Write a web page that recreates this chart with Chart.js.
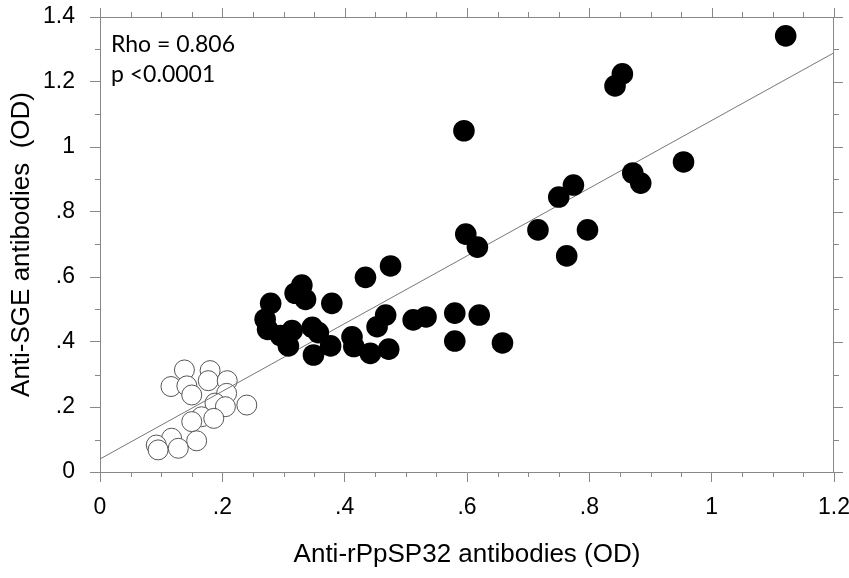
<!DOCTYPE html>
<html>
<head>
<meta charset="utf-8">
<script src="https://cdn.jsdelivr.net/npm/chart.js@4"></script>
<style>
html,body{margin:0;padding:0;background:#fff;}
#wrap{width:849px;height:578px;position:relative;}
</style>
</head>
<body>
<div id="wrap"><canvas id="c"></canvas></div>
<script>
// Group 1 (filled circles): Anti-rPpSP32 OD (x) vs Anti-SGE OD (y)
const filledX = [1.121,0.854,0.842,0.595,0.954,0.871,0.884,0.774,0.750,0.716,0.797,0.763,0.598,0.617,
  0.475,0.434,0.330,0.319,0.336,0.379,0.279,0.270,0.274,0.295,0.314,0.308,0.347,0.357,0.377,0.349,
  0.412,0.415,0.442,0.472,0.467,0.453,0.512,0.533,0.580,0.620,0.580,0.658];
const filledY = [1.342,1.225,1.188,1.050,0.954,0.920,0.889,0.883,0.846,0.745,0.745,0.665,0.732,0.692,
  0.634,0.599,0.575,0.550,0.531,0.519,0.519,0.470,0.439,0.420,0.435,0.388,0.445,0.429,0.388,0.360,
  0.416,0.386,0.365,0.378,0.483,0.447,0.468,0.477,0.489,0.483,0.403,0.397];
// Group 2 (open circles)
const openX = [0.138,0.180,0.116,0.142,0.177,0.208,0.150,0.207,0.188,0.205,0.240,0.166,0.186,0.150,
  0.117,0.158,0.092,0.095,0.128];
const openY = [0.314,0.312,0.263,0.265,0.281,0.281,0.237,0.242,0.212,0.201,0.206,0.170,0.165,0.155,
  0.104,0.096,0.083,0.068,0.073];
// Regression line end points
const fitX = [0, 1.2];
const fitY = [0.04, 1.29];
// Axis ticks
const xTicks = [0, 0.2, 0.4, 0.6, 0.8, 1.0, 1.2];
const yTicks = [0, 0.2, 0.4, 0.6, 0.8, 1.0, 1.2, 1.4];
const statLines = ['Rho = 0.806', 'p <0.0001'];

function pts(xs, ys){ return xs.map((x,i)=>({x:x, y:ys[i]})); }
function fmt(v){
  v = Math.round(v*10)/10;
  if (v === 0) return '0';
  if (v < 1) return String(v).replace(/^0/, '');
  return String(v);
}

const AXIS = '#888888';

const framePlugin = {
  id: 'frame',
  afterDraw(chart){
    const {ctx, chartArea:a, scales:{x, y}} = chart;
    ctx.save();
    ctx.strokeStyle = AXIS;
    ctx.lineWidth = 1;
    ctx.beginPath();
    // top and right frame
    ctx.moveTo(a.left, a.top + 0.5); ctx.lineTo(a.right, a.top + 0.5);
    ctx.moveTo(a.right - 0.5, a.top); ctx.lineTo(a.right - 0.5, a.bottom);
    // minor/major ticks
    const xMin = xTicks[0], xMax = xTicks[xTicks.length-1];
    for (let i = 0; i <= Math.round((xMax-xMin)/0.05); i++){
      const v = xMin + i*0.05;
      const px = Math.round(x.getPixelForValue(v)) + 0.5;
      const major = i % 4 === 0;
      const L = major ? 9 : 5;
      if (!major){ ctx.moveTo(px, a.bottom); ctx.lineTo(px, a.bottom + L); }
      ctx.moveTo(px, a.top); ctx.lineTo(px, a.top - L);
    }
    const yMin = yTicks[0], yMax = yTicks[yTicks.length-1];
    for (let i = 0; i <= Math.round((yMax-yMin)/0.1); i++){
      const v = yMin + i*0.1;
      const py = Math.round(y.getPixelForValue(v)) + 0.5;
      const major = i % 2 === 0;
      const L = major ? 9 : 5;
      if (!major){ ctx.moveTo(a.left, py); ctx.lineTo(a.left - L, py); }
      ctx.moveTo(a.right, py); ctx.lineTo(a.right + L, py);
    }
    ctx.stroke();
    // statistics text
    ctx.fillStyle = '#000';
    ctx.font = '23px Lato, "Open Sans", sans-serif';
    ctx.textBaseline = 'middle';
    ctx.textAlign = 'left';
    ctx.fillText(statLines[0], a.left + 11, 45);
    ctx.fillText(statLines[1], a.left + 11, 75);
    ctx.restore();
  }
};

new Chart(document.getElementById('c'), {
  type: 'scatter',
  data: {
    datasets: [
      { label: 'open', data: pts(openX, openY), order: 3,
        pointRadius: 10, pointHoverRadius: 10, pointBackgroundColor: '#ffffff',
        pointBorderColor: '#555555', pointBorderWidth: 1 },
      { label: 'fit', type: 'line', data: pts(fitX, fitY), order: 2,
        borderColor: '#777777', borderWidth: 1, pointRadius: 0, fill: false },
      { label: 'filled', data: pts(filledX, filledY), order: 1,
        pointRadius: 10.8, pointHoverRadius: 10.8, pointBackgroundColor: '#000000',
        pointBorderColor: '#000000', pointBorderWidth: 0 }
    ]
  },
  options: {
    responsive: true,
    maintainAspectRatio: false,
    animation: false,
    devicePixelRatio: 1,
    layout: { padding: { left: 0, right: 15, top: 17, bottom: 0 } },
    plugins: { legend: { display: false }, tooltip: { enabled: false } },
    scales: {
      x: {
        type: 'linear', min: 0, max: 1.2,
        afterBuildTicks: s => { s.ticks = xTicks.map(v => ({value: v})); },
        afterFit: s => { s.height = 106; s.paddingLeft = 0; s.paddingRight = 0; },
        grid: { drawOnChartArea: false, drawTicks: true, tickLength: 10, color: AXIS },
        border: { display: true, color: AXIS },
        ticks: { padding: 12, color: '#000', font: { family: '"Liberation Sans", Arial, sans-serif', size: 23 },
          maxRotation: 0, autoSkip: false, callback: v => fmt(v) },
        title: { display: true, text: 'Anti-rPpSP32 antibodies (OD)', color: '#000',
          font: { family: '"Liberation Sans", Arial, sans-serif', size: 26 }, padding: { top: 0, bottom: 8 } }
      },
      y: {
        type: 'linear', min: 0, max: 1.4,
        afterBuildTicks: s => { s.ticks = yTicks.map(v => ({value: v})); },
        afterFit: s => { s.width = 100; s.paddingTop = 0; s.paddingBottom = 0; },
        grid: { drawOnChartArea: false, drawTicks: true, tickLength: 10, color: AXIS },
        border: { display: true, color: AXIS },
        ticks: { padding: 15, color: '#000', font: { family: '"Liberation Sans", Arial, sans-serif', size: 23 },
          autoSkip: false, callback: v => fmt(v) },
        title: { display: true, text: 'Anti-SGE antibodies  (OD)', color: '#000',
          font: { family: '"Liberation Sans", Arial, sans-serif', size: 26 }, padding: { top: 6, bottom: 0 } }
      }
    }
  },
  plugins: [framePlugin]
});
</script>
</body>
</html>
